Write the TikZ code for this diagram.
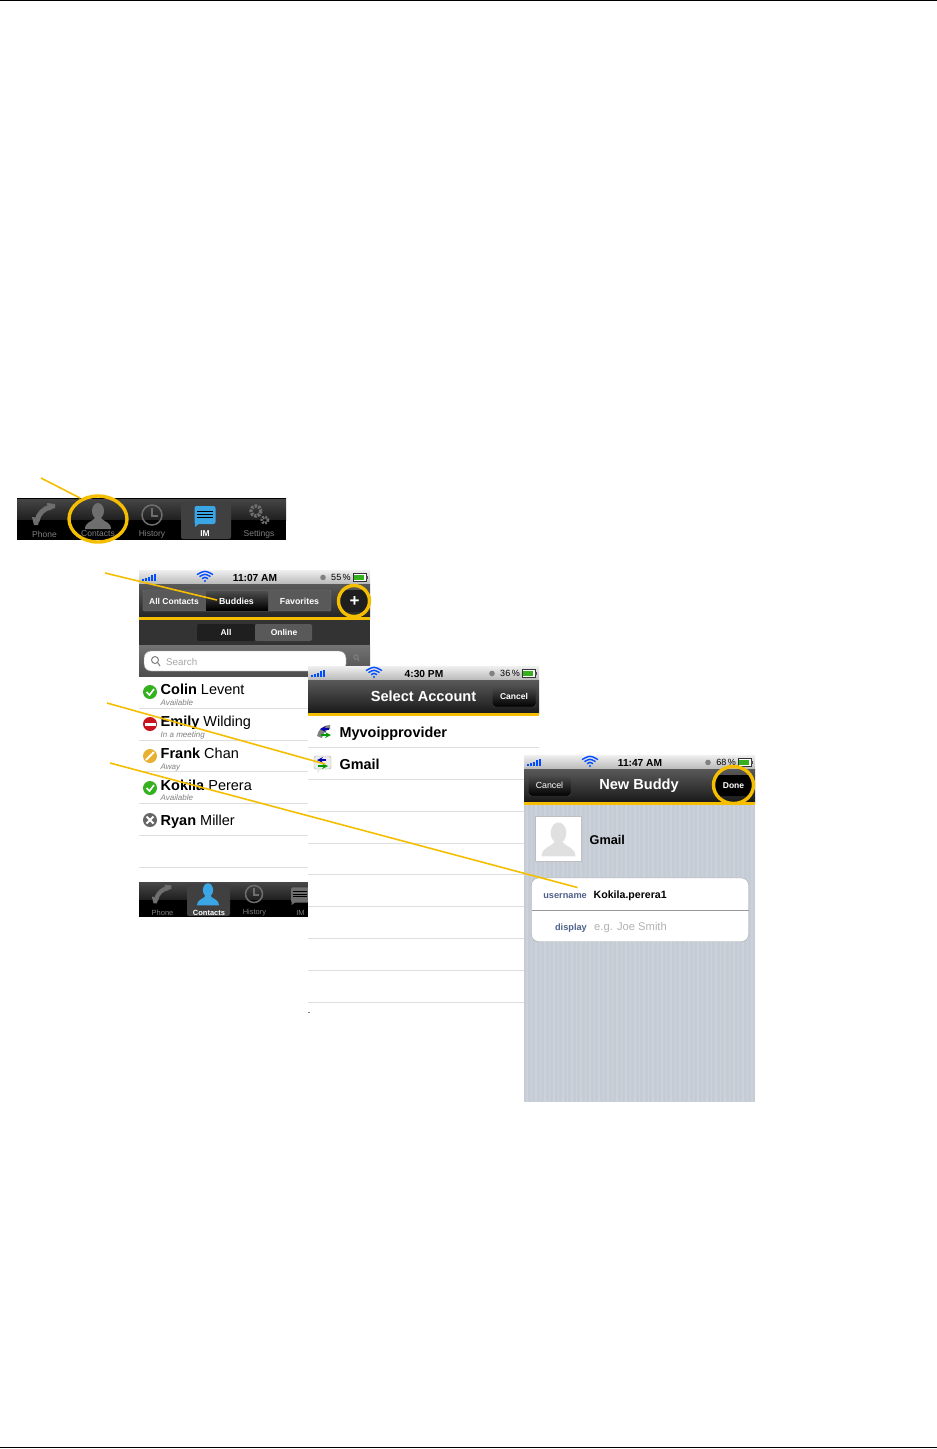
\documentclass[tikz,border=0pt]{standalone}
\usepackage{fontspec}
\setmainfont{Liberation Sans}
\usepackage{tikz}
\usetikzlibrary{shapes.geometric}
\definecolor{leadyellow}{HTML}{F5BE00}
\definecolor{okgreen}{HTML}{35B01E}
\definecolor{busyred}{HTML}{C8141E}
\definecolor{awayyellow}{HTML}{E8B030}
\definecolor{stripe}{HTML}{C5CCD5}
\definecolor{sepgray}{HTML}{DEDEDE}
\definecolor{labelblue}{HTML}{4E6189}
\definecolor{tabgray}{HTML}{6E6E6E}
\definecolor{tabblue}{HTML}{3BA6E6}
\newcommand{\Fs}[1]{\fontsize{#1}{#1}\selectfont}
\tikzset{
  leader/.style={draw=leadyellow, line width=1.6},
  ring/.style={draw=leadyellow, line width=3.4},
  txt/.style={inner sep=0pt, text=black},
  tabtxt/.style={inner sep=0pt, text=#1},
  navbtn/.style={draw=black!70, rounded corners=3, top color=black!70, bottom color=black},
  sepline/.style={draw=sepgray, line width=0.9}
}
% status bar: x, y, width, time, percent, name
\newcommand{\StatusBar}[6]{
  \begin{scope}[shift={(#1,#2)}]
    \shade[top color=white!88!gray, bottom color=gray!55] (0,0) rectangle (#3,14);
    \foreach \i/\h in {0/2,3/3,6/4,9/6,12/7}
      \fill[blue!70!cyan] (3+\i,11) rectangle (5+\i,11-\h);
    \fill[blue!70!cyan] (66,11) circle (1.2);
    \foreach \r in {3,5.5,8}
      \draw[blue!70!cyan, line width=1.4] (66-\r,11-\r*0.8) .. controls (66,11-\r*1.35) .. (66+\r,11-\r*0.8);
    \node[txt] (time#6) at (116,7.5) {\Fs{10.2}\textbf{#4}};
    \fill[gray] (184,7.5) circle (2.8);
    \node[txt] (pct#6) at (202,7.5) {\Fs{9}#5};
    \draw[black!80, fill=white] (214,3.5) rectangle (227,11);
    \fill[okgreen] (215,4.5) rectangle (225,10);
    \fill[black!70] (227,5.5) rectangle (228.5,9);
  \end{scope}
}
% person glyph: x, y, scale, colour
\newcommand{\PersonIcon}[4]{
  \begin{scope}[shift={(#1,#2)}, scale=#3]
    \fill[#4] (0,-7) ellipse (6 and 8);
    \fill[#4] (-13,11) .. controls (-13,4) and (-6,4) .. (-3,0) -- (3,0) .. controls (6,4) and (13,4) .. (13,11) -- cycle;
  \end{scope}
}
\newcommand{\PhoneIcon}[3]{
  \begin{scope}[shift={(#1,#2)}, scale=#3]
    \draw[tabgray, line width=5*#3] (-7,7) .. controls (-6,0) and (0,-6) .. (7,-7);
    \fill[tabgray] (-12,3) -- (-4,4) -- (-6,11) -- (-10,11) -- cycle;
    \fill[tabgray] (3,-11) -- (11,-10) -- (11,-6) -- (4,-4) -- cycle;
  \end{scope}
}
\newcommand{\ClockIcon}[3]{
  \begin{scope}[shift={(#1,#2)}, scale=#3]
    \draw[tabgray, line width=1.5] (0,0) circle (10);
    \draw[tabgray, line width=1.5] (0,-7) -- (0,1) -- (6,1);
  \end{scope}
}
\newcommand{\BubbleIcon}[4]{
  \begin{scope}[shift={(#1,#2)}, scale=#3]
    \fill[#4] (-10,12) -- (-10,7) -- (-4,7) -- cycle;
    \fill[#4, rounded corners=2] (-10.5,-9) rectangle (10.5,9);
    \foreach \l in {-4,-1,2}
      \draw[black, line width=0.8] (-8,\l) -- (8,\l);
  \end{scope}
}
\newcommand{\ArrowPair}[2]{
  \draw[->, >=stealth, blue!70!black, line width=1.6] (#1+4,#2-3) -- (#1-5,#2-3);
  \draw[->, >=stealth, green!60!black, line width=1.6] (#1-4,#2+3) -- (#1+6,#2+3);
}
\begin{document}
\begin{tikzpicture}[x=1pt,y=-1pt]
  \useasboundingbox (0,0) rectangle (937,1449);
  \fill[white] (0,0) rectangle (937,1449);

  \draw[black, line width=1] (0,0.5) -- (937,0.5);
  \draw[black, line width=1] (0,1447.5) -- (937,1447.5);

  %% top tab bar
  \shade[top color=black!72, bottom color=black!88] (17,498) rectangle (286,520);
  \fill[black] (17,520) rectangle (286,540);
  \draw[black] (17,498) -- (286,498);
  \fill[white!25!black, rounded corners=2] (181,501) rectangle (231,539);
  \PhoneIcon{44}{514}{1}
  \PersonIcon{98}{518}{1}{tabgray}
  \ClockIcon{152}{515}{1}
  \BubbleIcon{205}{515}{1}{tabblue}
  \draw[tabgray, line width=3.4, dash pattern=on 2.4 off 1.2] (256,511) circle (5);
  \draw[tabgray, line width=2.8, dash pattern=on 1.8 off 1.2] (265,520) circle (3.2);
  \node[tabtxt=gray] (tabphone) at (44.5,534) {\Fs{8.5}Phone};
  \node[tabtxt=gray] (tabcontacts) at (98,534) {\Fs{8.5}Contacts};
  \node[tabtxt=gray] (tabhistory) at (152,534) {\Fs{8.5}History};
  \node[tabtxt=white] (tabim) at (205,534) {\Fs{8.5}\textbf{IM}};
  \node[tabtxt=gray] (tabsettings) at (259,534) {\Fs{8.5}Settings};

  %% contacts screen
  \StatusBar{139}{570}{231}{11:07 AM}{55\,\%}{a}
  \shade[top color=black!65, bottom color=black!85] (139,584) rectangle (370,617);
  \draw[black!55, fill=black!65, rounded corners=2] (143,590) rectangle (331,611);
  \shade[top color=black!70, bottom color=black] (206,591) rectangle (268,610);
  \node[tabtxt=white] (tabsall) at (174,601) {\Fs{8.5}\textbf{All Contacts}};
  \node[tabtxt=white] (tabsbuddies) at (236.5,601) {\Fs{8.8}\textbf{Buddies}};
  \node[tabtxt=white] (tabsfav) at (299.5,601) {\Fs{8.8}\textbf{Favorites}};
  \fill[black!88, rounded corners=3] (339,590) rectangle (369,612);
  \node[tabtxt=white] (plus) at (354.5,601.5) {\Fs{17}\textbf{+}};
  \fill[leadyellow] (139,617) rectangle (370,620);
  \fill[black!80] (139,620) rectangle (370,645);
  \fill[black!88, rounded corners=2] (197,624) rectangle (255,641);
  \fill[black!65, rounded corners=2] (255,624) rectangle (312,641);
  \node[tabtxt=white] (filterall) at (226,632.5) {\Fs{8.5}\textbf{All}};
  \node[tabtxt=white] (filteronline) at (284,632.5) {\Fs{8.5}\textbf{Online}};
  \shade[top color=black!55, bottom color=black!70] (139,645) rectangle (370,677);
  \draw[black!40, fill=white, rounded corners=7] (144,651) rectangle (346,671);
  \draw[gray, line width=1] (155,660) circle (3.5) (158,663) -- (160,666);
  \node[tabtxt=gray!70, anchor=west] (searchtxt) at (166,661.5) {\Fs{9.8}Search};
  \draw[gray, line width=1] (356,657) circle (2.2) (358,659) -- (359,661);

  %% rows
  \fill[white] (139,677) rectangle (308,882);
  \foreach \y in {708,740,771,803,835,867}
    \draw[sepline] (139,\y) -- (308,\y);
  \foreach \n/\y in {1/692,4/788}{
    \fill[okgreen] (150,\y) circle (7);
    \draw[white, line width=1.6] (146.5,\y) -- (149.5,\y+3) -- (154,\y-3);
  }
  \fill[busyred] (150,724) circle (7);
  \fill[white] (144.5,722.5) rectangle (155.5,725.5);
  \fill[awayyellow] (150,756) circle (7);
  \draw[white, line width=2] (146,760) -- (154,752);
  \fill[black!60] (150,820) circle (7);
  \draw[white, line width=2] (146.5,816.5) -- (153.5,823.5) (146.5,823.5) -- (153.5,816.5);
  \node[txt, anchor=base west] (colin) at (160.5,694) {\Fs{14.5}\textbf{Colin} Levent};
  \node[txt, anchor=base west] (emily) at (160.5,726) {\Fs{14.5}\textbf{Emily} Wilding};
  \node[txt, anchor=base west] (frank) at (160.5,758) {\Fs{14.5}\textbf{Frank} Chan};
  \node[txt, anchor=base west] (kokila) at (160.5,790) {\Fs{14.5}\textbf{Kokila} Perera};
  \node[txt, anchor=base west] (ryan) at (160.5,825) {\Fs{14.5}\textbf{Ryan} Miller};
  \node[tabtxt=gray, anchor=base west] (colinstate) at (160.5,705) {\Fs{8}\textit{Available}};
  \node[tabtxt=gray, anchor=base west] (emilystate) at (160.5,737) {\Fs{8}\textit{In a meeting}};
  \node[tabtxt=gray, anchor=base west] (frankstate) at (160.5,769) {\Fs{8}\textit{Away}};
  \node[tabtxt=gray, anchor=base west] (kokilastate) at (160.5,800) {\Fs{8}\textit{Available}};

  %% lower tab bar
  \shade[top color=black!72, bottom color=black!88] (139,882) rectangle (308,900);
  \fill[black] (139,900) rectangle (308,917);
  \fill[white!25!black, rounded corners=2] (187,884) rectangle (230,916);
  \PhoneIcon{162}{894}{0.85}
  \PersonIcon{208}{896}{0.85}{tabblue}
  \ClockIcon{254}{894}{0.85}
  \begin{scope}
    \clip (139,882) rectangle (308,917);
    \BubbleIcon{300}{895}{0.85}{tabgray}
  \end{scope}
  \node[tabtxt=gray] (lowphone) at (162.5,912.5) {\Fs{7.5}Phone};
  \node[tabtxt=white] (lowcontacts) at (209,912.5) {\Fs{7.5}\textbf{Contacts}};
  \node[tabtxt=gray] (lowhistory) at (254.5,912.5) {\Fs{7.5}History};
  \node[tabtxt=gray] (lowim) at (300.5,912.5) {\Fs{7.5}IM};

  %% select account screen
  \fill[white] (308,666) rectangle (539,1013);
  \fill[gray] (308,1012) rectangle (310,1013);
  \StatusBar{308}{666}{231}{4:30 PM}{36\,\%}{b}
  \shade[top color=black!65, bottom color=black!90] (308,680) rectangle (539,713);
  \fill[leadyellow] (308,713) rectangle (539,716);
  \node[tabtxt=white] (selecttitle) at (423.5,696.5) {\Fs{14.6}\textbf{Select Account}};
  \draw[navbtn] (492.5,686.5) rectangle (536,707);
  \node[tabtxt=white] (selectcancel) at (514,696.5) {\Fs{8.5}\textbf{Cancel}};
  \foreach \y in {747,779,811,843,874,906,938,970,1002}
    \draw[sepline] (308,\y) -- (539,\y);
  \fill[gray] (317,736) .. controls (318,729) and (324,725) .. (330,725) -- (330,729) .. controls (326,730) and (323,733) .. (322,738) -- cycle;
  \ArrowPair{325}{732}
  \draw[gray!70, fill=gray!15, rounded corners=2] (314,756) rectangle (331,769);
  \fill[gray!15] (317,769) -- (317,773) -- (321,769) -- cycle;
  \ArrowPair{322}{763}
  \node[txt, anchor=base west] (myvoip) at (339.5,737) {\Fs{14.4}\textbf{Myvoipprovider}};
  \node[txt, anchor=base west] (gmailrow) at (339.5,769) {\Fs{14.4}\textbf{Gmail}};

  %% new buddy screen
  \fill[stripe] (524,769) rectangle (755,1102);
  \foreach \x in {527,531.5,...,755}
    \draw[white!88!stripe, opacity=0.15, line width=1.2] (\x,802) -- (\x,1102);
  \StatusBar{524}{755}{231}{11:47 AM}{68\,\%}{c}
  \shade[top color=black!65, bottom color=black!90] (524,769) rectangle (755,802);
  \fill[leadyellow] (524,802) rectangle (755,805);
  \node[tabtxt=white] (buddytitle) at (639,785.5) {\Fs{14.6}\textbf{New Buddy}};
  \draw[navbtn] (528.5,775.5) rectangle (571,796);
  \node[tabtxt=white] (buddycancel) at (549.5,785.5) {\Fs{8.8}Cancel};
  \fill[black, rounded corners=3] (714,775) rectangle (753,796);
  \node[tabtxt=white] (buddydone) at (733.5,785.5) {\Fs{8.5}\textbf{Done}};
  \draw[gray!50, fill=white] (535.5,816.5) rectangle (581.5,861);
  \PersonIcon{558.5}{842}{1.3}{black!12}
  \node[txt, anchor=west] (gmaillabel) at (589.5,840) {\Fs{12.7}\textbf{Gmail}};
  \draw[gray!70, fill=white, rounded corners=7] (531.5,878) rectangle (748.5,941.5);
  \draw[gray!80] (531.5,910) -- (748.5,910);
  \node[tabtxt=labelblue, anchor=base east] (username) at (587,898) {\Fs{9.2}\textbf{username}};
  \node[tabtxt=labelblue, anchor=base east] (display) at (587,930) {\Fs{9.2}\textbf{display}};
  \node[txt, anchor=base west] (usernameval) at (593.5,898) {\Fs{10.6}\textbf{Kokila.perera1}};
  \node[tabtxt=gray!60, anchor=base west] (displayval) at (594,930) {\Fs{11.2}e.g. Joe Smith};

  %% rings
  \node[ring, ellipse, inner sep=0pt, minimum width=58, minimum height=46] (ringcontacts) at (98,519) {};
  \node[ring, circle, inner sep=0pt, minimum size=31] (ringplus) at (354,601) {};
  \node[ring, ellipse, inner sep=0pt, minimum width=40, minimum height=37] (ringdone) at (733.5,785) {};

  %% leaders
  \coordinate (leadA) at (41,478);
  \coordinate (leadB) at (105,573);
  \coordinate (leadC) at (107,703);
  \coordinate (leadD) at (110,763);
  \coordinate (endA) at (80,498);
  \coordinate (endB) at (217,600);
  \coordinate (endC) at (325,764);
  \coordinate (endD) at (577.5,887.5);
  \draw[leader] (leadA) -- (endA);
  \draw[leader] (leadB) -- (endB);
  \draw[leader] (leadC) -- (endC);
  \draw[leader] (leadD) -- (endD);
\end{tikzpicture}
\end{document}
